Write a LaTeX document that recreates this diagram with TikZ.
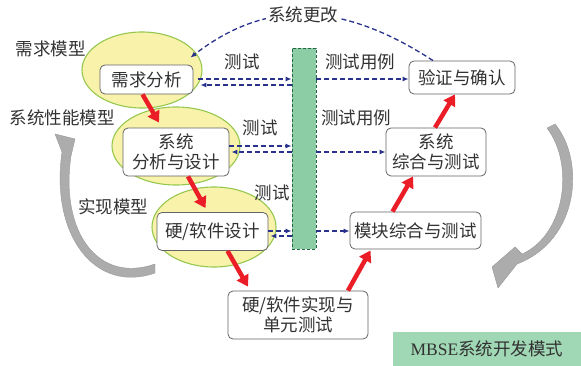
\documentclass[tikz,border=0pt]{standalone}
\usepackage{fontspec}
\setmainfont{Noto Sans CJK SC}
\newfontfamily\serifen{Liberation Serif}
\usetikzlibrary{shapes.geometric,arrows.meta}
\definecolor{ellfill}{RGB}{249,242,170}
\definecolor{elledge}{RGB}{150,200,80}
\definecolor{boxedge}{RGB}{100,100,100}
\definecolor{barfill}{RGB}{140,205,165}
\definecolor{baredge}{RGB}{40,100,70}
\definecolor{dblue}{RGB}{40,50,140}
\definecolor{redar}{RGB}{235,30,40}
\definecolor{grayar}{RGB}{172,172,172}
\definecolor{txt}{RGB}{50,50,50}
\definecolor{mbse}{RGB}{160,215,180}
\begin{document}
\begin{tikzpicture}[x=1pt,y=-1pt,
  every node/.style={text=txt,font=\fontsize{17.5}{20}\selectfont},
  ell/.style={ellipse,draw=elledge,fill=ellfill,line width=1.1pt,inner sep=0pt},
  box/.style={draw=boxedge,fill=white,rounded corners=5pt,line width=0.8pt,align=center,inner sep=0pt},
  lbl/.style={inner sep=1pt},
  testar/.style={dblue,dash pattern=on 5pt off 3pt,line width=1.3pt,-{Latex[length=6pt,width=5pt]}},
  redarrow/.style={redar,line width=4.5pt,-{Triangle[width=13pt,length=11pt]}},
  grayarrow/.style={fill=grayar,draw=gray!80,line width=0.4pt}
]
\useasboundingbox (0,0) rectangle (581,366);

% gray cycle arrows
\filldraw[grayarrow] (155,273) .. controls (95,294) and (50,235) .. (62,152) -- (55,134) -- (75,139) -- (71,156) .. controls (60,232) and (98,284) .. (155,264) -- cycle;
\filldraw[grayarrow] (547,128) -- (555,124) .. controls (585,160) and (580,240) .. (517,264) -- (498,288) -- (492,267) -- (515,247) -- (522,254) .. controls (565,235) and (575,165) .. (547,128) -- cycle;

% ellipses
\node[ell,minimum width=120pt,minimum height=76pt] (e1) at (142,70) {};
\node[ell,minimum width=128pt,minimum height=78pt] (e2) at (176,146) {};
\node[ell,minimum width=124pt,minimum height=80pt] (e3) at (214,227) {};

% test bar
\node[draw=baredge,fill=barfill,dash pattern=on 3pt off 2pt,line width=0.8pt,minimum width=24pt,minimum height=201pt,inner sep=0pt] (bar) at (304,148.5) {};

% boxes
\node[box,minimum width=93pt,minimum height=29pt] (req) at (146.5,79.5) {需求分析};
\node[box,minimum width=106pt,minimum height=48pt] (sys) at (176,152) {系统\\分析与设计};
\node[box,minimum width=111pt,minimum height=38pt] (hw) at (212.5,231.5) {硬/软件设计};
\node[box,minimum width=140pt,minimum height=48pt] (impl) at (298,315) {硬/软件实现与\\单元测试};
\node[box,minimum width=131pt,minimum height=37pt] (mod) at (415.5,230.5) {模块综合与测试};
\node[box,minimum width=100pt,minimum height=48pt] (sint) at (436,152) {系统\\综合与测试};
\node[box,minimum width=106pt,minimum height=33pt] (ver) at (462,77.5) {验证与确认};

% MBSE label
\node[fill=mbse,minimum width=188pt,minimum height=34pt,inner sep=0pt] (mb) at (487,349) {{\serifen MBSE}系统开发模式};

% labels
\node[lbl] (l1) at (51,49) {需求模型};
\node[lbl] (l2) at (62,118) {系统性能模型};
\node[lbl] (l3) at (113,207) {实现模型};
\node[lbl] (t1) at (242,62) {测试};
\node[lbl] (t2) at (260,128) {测试};
\node[lbl] (t3) at (272,193) {测试};
\node[lbl] (u1) at (360,62) {测试用例};
\node[lbl] (u2) at (356,118) {测试用例};

% test arrows left side
\draw[testar] ([xshift=5pt,yshift=0.5pt]req.east) -- ([yshift=0.5pt]req.east -| bar.west);
\draw[testar] ([yshift=-5.5pt]req.east -| bar.west) -- ([xshift=7pt,yshift=-5.5pt]req.east);
\draw[testar] ([yshift=6pt]sys.east) -- ([yshift=6pt]sys.east -| bar.west);
\draw[testar] (sys.east -| bar.west) -- ([xshift=2pt]sys.east);
\draw[testar] ([yshift=0.5pt]hw.east) -- ([yshift=0.5pt]hw.east -| bar.west);
\draw[testar] ([yshift=-4.5pt]hw.east -| bar.west) -- ([xshift=2pt,yshift=-4.5pt]hw.east);

% test case arrows right side
\draw[testar] ([yshift=-1.5pt]bar.east |- ver.west) -- ([yshift=-1.5pt]ver.west);
\draw[testar] (bar.east |- sint.west) -- (sint.west);
\draw[testar] ([yshift=-0.5pt]bar.east |- mod.west) -- ([yshift=-0.5pt]mod.west);

% system change
\draw[testar] ([xshift=-29pt]ver.north) .. controls (340,0) and (265,0) .. ([xshift=-3pt,yshift=7pt]req.north east);
\node[lbl,fill=white,inner sep=2pt] (chg) at (303,15) {系统更改};

% red flow arrows
\draw[redarrow] ([xshift=-4pt]req.south) -- ([xshift=-17pt,yshift=5pt]sys.north);
\draw[redarrow] ([xshift=12pt]sys.south) -- ([xshift=-7pt,yshift=4pt]hw.north);
\draw[redarrow] ([xshift=15pt]hw.south) -- ([xshift=-50pt,yshift=4pt]impl.north);
\draw[redarrow] ([xshift=50pt]impl.north) -- ([xshift=-45pt,yshift=-1pt]mod.south);
\draw[redarrow] ([xshift=-23pt]mod.north) -- ([xshift=-23pt]sint.south);
\draw[redarrow] ([xshift=-1pt]sint.north) -- ([xshift=-7pt]ver.south);
\end{tikzpicture}
\end{document}
